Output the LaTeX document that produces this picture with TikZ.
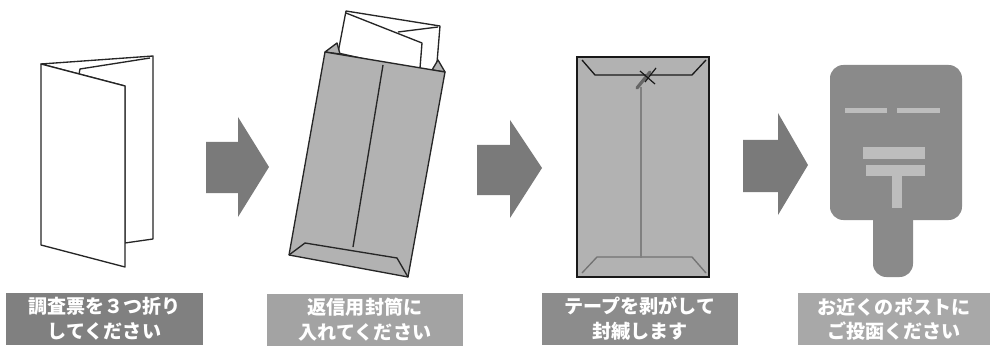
\documentclass[tikz,border=0pt]{standalone}
\usepackage{fontspec}
\newfontfamily\jp{Noto Sans CJK JP}
\begin{document}
\begin{tikzpicture}[x=0.75pt,y=-0.75pt,
  outline/.style={draw=black!85,line width=1pt,line join=round},
  paper/.style={outline,fill=white},
  envfill/.style={fill=black!30},
  blockarrow/.style={fill=black!52},
  label/.style={fill=#1,text=white,minimum height=39pt,inner sep=0pt,
    align=center,font=\jp\bfseries\fontsize{14.3}{18.5}\selectfont},
  postgray/.style={fill=black!46},
  postmark/.style={fill=black!26}]
\useasboundingbox (0,0) rectangle (990,346);

% ---- step 1: tri-folded sheet ----
\draw[paper] (41,64) -- (153,56) -- (153,239) -- (125,243) -- (125,86) -- cycle;
\draw[outline] (79,74) -- (80,69) -- (150,58);
\draw[paper] (41,64) -- (125,86) -- (125,267) -- (41,245) -- cycle;

% ---- step 2: sheet going into the reply envelope ----
\draw[paper] (338,53) -- (346,11) -- (440,26) -- (436,75) -- cycle;
\draw[outline] (346,13) -- (422,43) -- (420,68);
\draw[outline] (398,32) -- (438,27);
\draw[outline,envfill] (325,52) -- (337,43) -- (340,54) -- cycle;
\draw[outline,envfill] (445,72) -- (438,60) -- (432,70) -- cycle;
\draw[outline,envfill] (325,52) -- (445,72) -- (408,277) -- (289,255) -- cycle;
\draw[outline] (383,65) -- (353,247);
\draw[outline] (289,255) -- (305,243) -- (397,258) -- (408,277);

% ---- step 3: sealed envelope ----
\draw[draw=black!90,line width=1.4pt,envfill] (577,57) rectangle (709,277);
\draw[draw=black!90,line width=1pt] (582,60) -- (595,75) -- (692,75) -- (706,60);
\draw[draw=black!55,line width=1pt] (582,273) -- (597,257) -- (692,257) -- (706,273);
\draw[draw=black!50,line width=2pt] (641,87) -- (641,258);
\draw[draw=black!60,line width=2.4pt,line cap=round] (637,88) -- (650,72);
\draw[draw=black!90,line width=0.9pt] (640,71) -- (655,84);
\draw[draw=black!90,line width=0.9pt] (645,82) -- (656,68);

% ---- step 4: post box ----
\fill[postgray,rounded corners=10pt] (873,200) rectangle (913,277);
\fill[postgray,rounded corners=10pt] (830,65) rectangle (962,220);
\fill[postmark] (845,108) rectangle (887,113);
\fill[postmark] (897,108) rectangle (940,113);
\fill[postmark] (863,147) rectangle (925,159);
\fill[postmark] (866,165) rectangle (925,176);
\fill[postmark] (892,176) rectangle (902,208);

% ---- block arrows between steps ----
\fill[blockarrow] (206,142) -- (238,142) -- (238,117) -- (269,167)
  -- (238,217) -- (238,193) -- (206,193) -- cycle;
\fill[blockarrow] (477,145) -- (510,145) -- (510,120) -- (542,168)
  -- (510,218) -- (510,195) -- (477,195) -- cycle;
\fill[blockarrow] (743,140) -- (778,140) -- (778,113) -- (808,165)
  -- (778,215) -- (778,192) -- (743,192) -- cycle;

% ---- captions ----
\node[label=black!50,minimum width=147.75pt] (cap1) at (104.5,319)
  {調査票を３つ折り\\してください};
\node[label=black!36,minimum width=147pt] (cap2) at (365,319.5)
  {返信用封筒に\\入れてください};
\node[label=black!45,minimum width=147pt] (cap3) at (640,319)
  {テープを剥がして\\封緘します};
\node[label=black!34,minimum width=144pt] (cap4) at (894,319)
  {お近くのポストに\\ご投函ください};
\end{tikzpicture}
\end{document}
